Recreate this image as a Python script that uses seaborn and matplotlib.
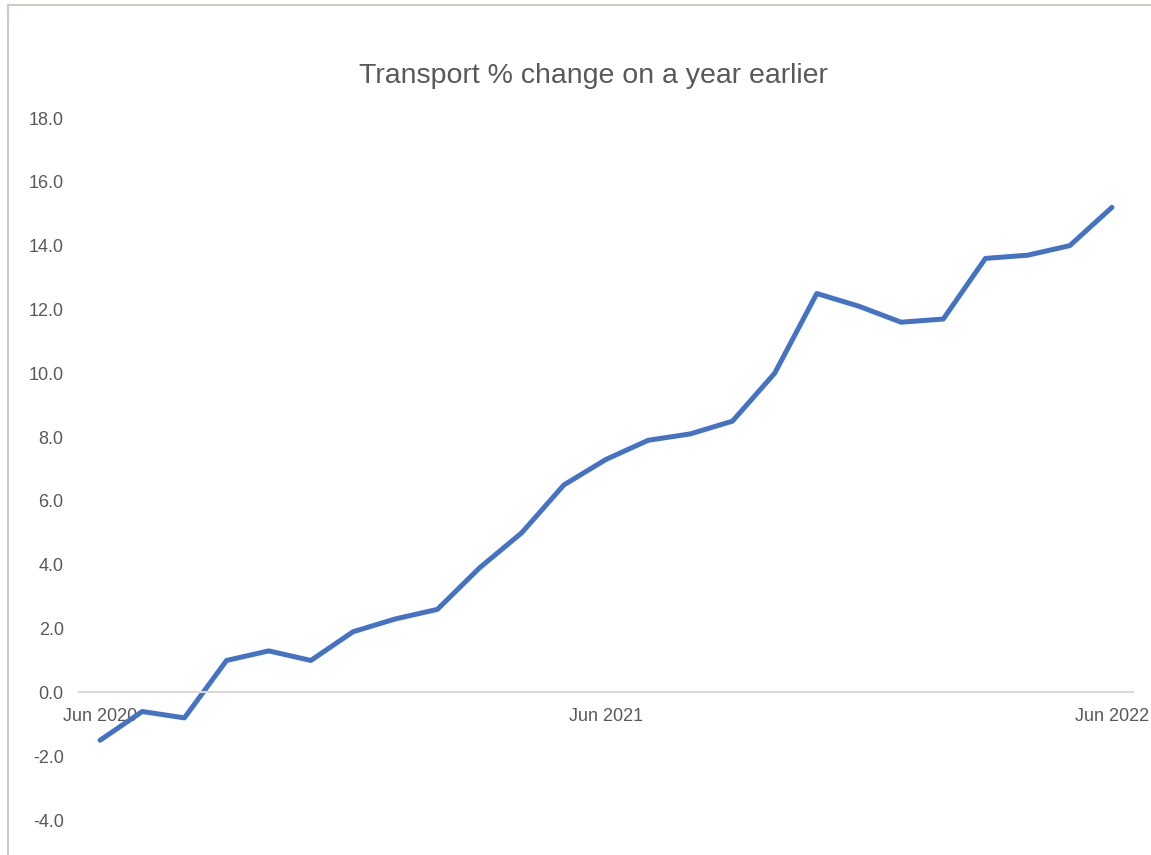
import matplotlib
matplotlib.use("Agg")
import matplotlib.pyplot as plt
import seaborn as sns
import pandas as pd
from matplotlib.patches import Rectangle

months = list(range(25))  # Jun 2020 .. Jun 2022
transport_pct = [-1.5, -0.6, -0.8, 1.0, 1.3, 1.0, 1.9, 2.3, 2.6, 3.9, 5.0, 6.5, 7.3,
                 7.9, 8.1, 8.5, 10.0, 12.5, 12.1, 11.6, 11.7, 13.6, 13.7, 14.0, 15.2]
tick_pos = [0, 12, 24]
tick_labels = ["Jun 2020", "Jun 2021", "Jun 2022"]
y_ticks = [-4, -2, 0, 2, 4, 6, 8, 10, 12, 14, 16, 18]

df = pd.DataFrame({"month": months, "pct": transport_pct})

sns.set_style("white")
plt.rcParams["font.family"] = ["Liberation Sans", "DejaVu Sans"]

fig = plt.figure(figsize=(11.51, 8.55), dpi=100)
ax = fig.add_axes([79 / 1151, 35 / 855, (1133 - 79) / 1151, (820 - 118) / 855])

sns.lineplot(data=df, x="month", y="pct", ax=ax, color="#4472C4", linewidth=3.6)

ax.set_xlim(-0.5, 24.5)
ax.set_ylim(-4, 18)
ax.set_yticks(y_ticks)
ax.set_yticklabels([f"{v:.1f}" for v in y_ticks])
ax.set_xticks(tick_pos)
ax.set_xticklabels(tick_labels)
ax.set_xlabel("")
ax.set_ylabel("")

for s in ["top", "right", "left"]:
    ax.spines[s].set_visible(False)
ax.spines["bottom"].set_position(("data", 0))
ax.spines["bottom"].set_color("#d9d9d9")
ax.spines["bottom"].set_linewidth(1.5)

ax.tick_params(axis="y", length=0, labelsize=13, labelcolor="#595959", pad=11)
ax.tick_params(axis="x", length=0, labelsize=13, labelcolor="#595959", pad=11)

fig.text(593 / 1151, 1 - 76 / 855, "Transport % change on a year earlier",
         ha="center", va="center", fontsize=20.5, color="#595959")

fig.patches.append(Rectangle((8 / 1151, -0.1), 1.2, 1 - 5 / 855 + 0.1,
                             transform=fig.transFigure, fill=False,
                             edgecolor="#cfcbc3", linewidth=1.5))

fig.savefig("out.png", dpi=100)
